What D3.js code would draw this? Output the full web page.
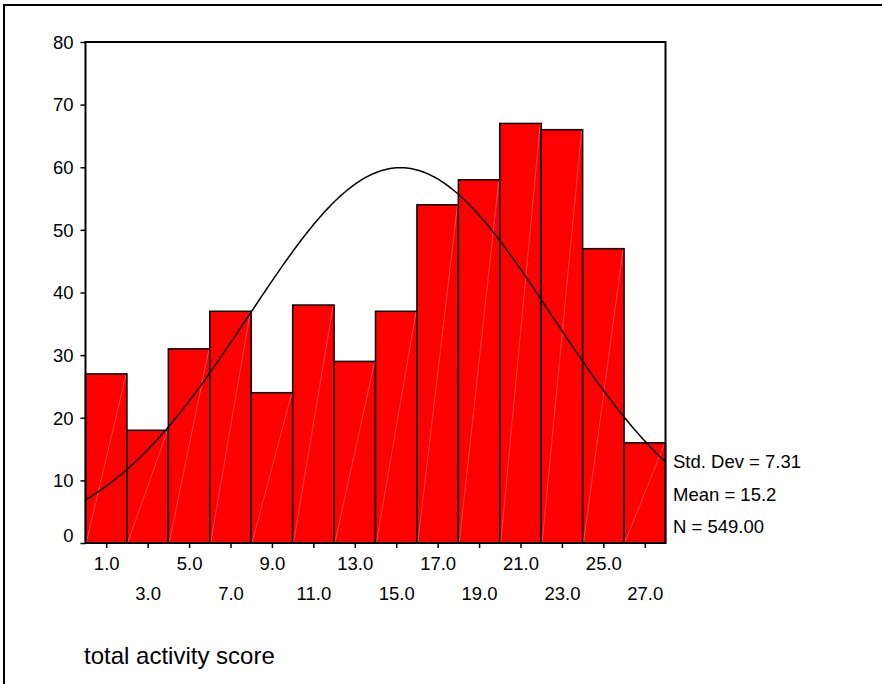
<!DOCTYPE html>
<html lang="en">
<head>
<meta charset="UTF-8">
<title>total activity score</title>
<script src="https://d3js.org/d3.v7.min.js"></script>
<style>
  body { margin: 0; background: #fff; }
  svg text { font-family: "Liberation Sans", Arial, sans-serif; fill: #000; }
</style>
</head>
<body>
<svg id="chart" width="882" height="684"></svg>
<script>
// histogram bins (midpoints) and counts
const binMids = [1, 3, 5, 7, 9, 11, 13, 15, 17, 19, 21, 23, 25, 27];
const counts = [27, 18, 31, 37, 24, 38, 29, 37, 54, 58, 67, 66, 47, 16];
const yTicks = [0, 10, 20, 30, 40, 50, 60, 70, 80];
const binWidth = 2;

// summary stats shown at right, also used for the fitted normal curve
const statLabels = ["Std. Dev = 7.31", "Mean = 15.2", "N = 549.00"];
const stdDev = 7.31, mean = 15.2, nCases = 549;

const svg = d3.select("#chart");
const plotLeft = 85.5, plotRight = 665.5, plotTop = 42, plotBottom = 543;
const fontSize = 18.5;

const x = d3.scaleLinear().domain([0, 28]).range([plotLeft, plotRight]);
const y = d3.scaleLinear().domain([0, 80]).range([plotBottom, plotTop]);

// outer frame
svg.append("rect")
    .attr("x", 4).attr("y", 5)
    .attr("width", 900).attr("height", 700)
    .attr("fill", "none").attr("stroke", "#000").attr("stroke-width", 2);

// bars
const bars = svg.append("g");
bars.selectAll("rect")
    .data(binMids)
    .enter().append("rect")
    .attr("x", (d) => x(d - binWidth / 2))
    .attr("y", (d, i) => y(counts[i]))
    .attr("width", x(binWidth) - x(0))
    .attr("height", (d, i) => y(0) - y(counts[i]))
    .attr("fill", "#ff0000")
    .attr("stroke", "#000")
    .attr("stroke-width", 1.5);

// faint white diagonals inside the bars
bars.selectAll("line")
    .data(binMids)
    .enter().append("line")
    .attr("x1", (d) => x(d - binWidth / 2) + 1)
    .attr("y1", y(0) - 1)
    .attr("x2", (d) => x(d + binWidth / 2) - 1)
    .attr("y2", (d, i) => y(counts[i]) + 1)
    .attr("stroke", "#ffffff")
    .attr("stroke-opacity", 0.4)
    .attr("stroke-width", 0.7);

// normal curve for the stated mean / std dev
const curveX = d3.range(0, 28.001, 0.1);
const normal = (v) => nCases * binWidth / (stdDev * Math.sqrt(2 * Math.PI)) *
    Math.exp(-0.5 * Math.pow((v - mean) / stdDev, 2));
svg.append("path")
    .datum(curveX)
    .attr("fill", "none")
    .attr("stroke", "#000")
    .attr("stroke-width", 1.5)
    .attr("d", d3.line().x((d) => x(d)).y((d) => y(normal(d))));

// plot frame
svg.append("rect")
    .attr("x", plotLeft).attr("y", plotTop)
    .attr("width", plotRight - plotLeft).attr("height", plotBottom - plotTop)
    .attr("fill", "none").attr("stroke", "#000").attr("stroke-width", 2);

// y axis
const yAxis = svg.append("g")
    .attr("transform", `translate(${plotLeft},0)`)
    .call(d3.axisLeft(y).tickValues(yTicks).tickSize(5).tickPadding(7));
yAxis.select(".domain").remove();
yAxis.selectAll(".tick line").attr("stroke", "#000").attr("stroke-width", 1.5);
yAxis.selectAll(".tick text")
    .attr("font-size", fontSize)
    .attr("font-family", "Liberation Sans, Arial, sans-serif")
    .attr("dy", (d) => d === 0 ? "-0.1em" : "0.34em");

// x axis
const xAxis = svg.append("g")
    .attr("transform", `translate(0,${plotBottom})`)
    .call(d3.axisBottom(x).tickValues(binMids).tickSize(5).tickFormat(d3.format(".1f")));
xAxis.select(".domain").remove();
xAxis.selectAll(".tick line").attr("stroke", "#000").attr("stroke-width", 1.5);
xAxis.selectAll(".tick text")
    .attr("font-size", fontSize)
    .attr("font-family", "Liberation Sans, Arial, sans-serif")
    .attr("dy", null)
    .attr("y", (d, i) => i % 2 === 0 ? 27 : 57);

// stats text
svg.selectAll(".stat")
    .data(statLabels)
    .enter().append("text")
    .attr("class", "stat")
    .attr("x", 673)
    .attr("y", (d, i) => 468 + i * 32.5)
    .attr("font-size", fontSize)
    .text((d) => d);

// axis title
svg.append("text")
    .attr("x", 84).attr("y", 664)
    .attr("font-size", 24)
    .text("total activity score");
</script>
</body>
</html>
